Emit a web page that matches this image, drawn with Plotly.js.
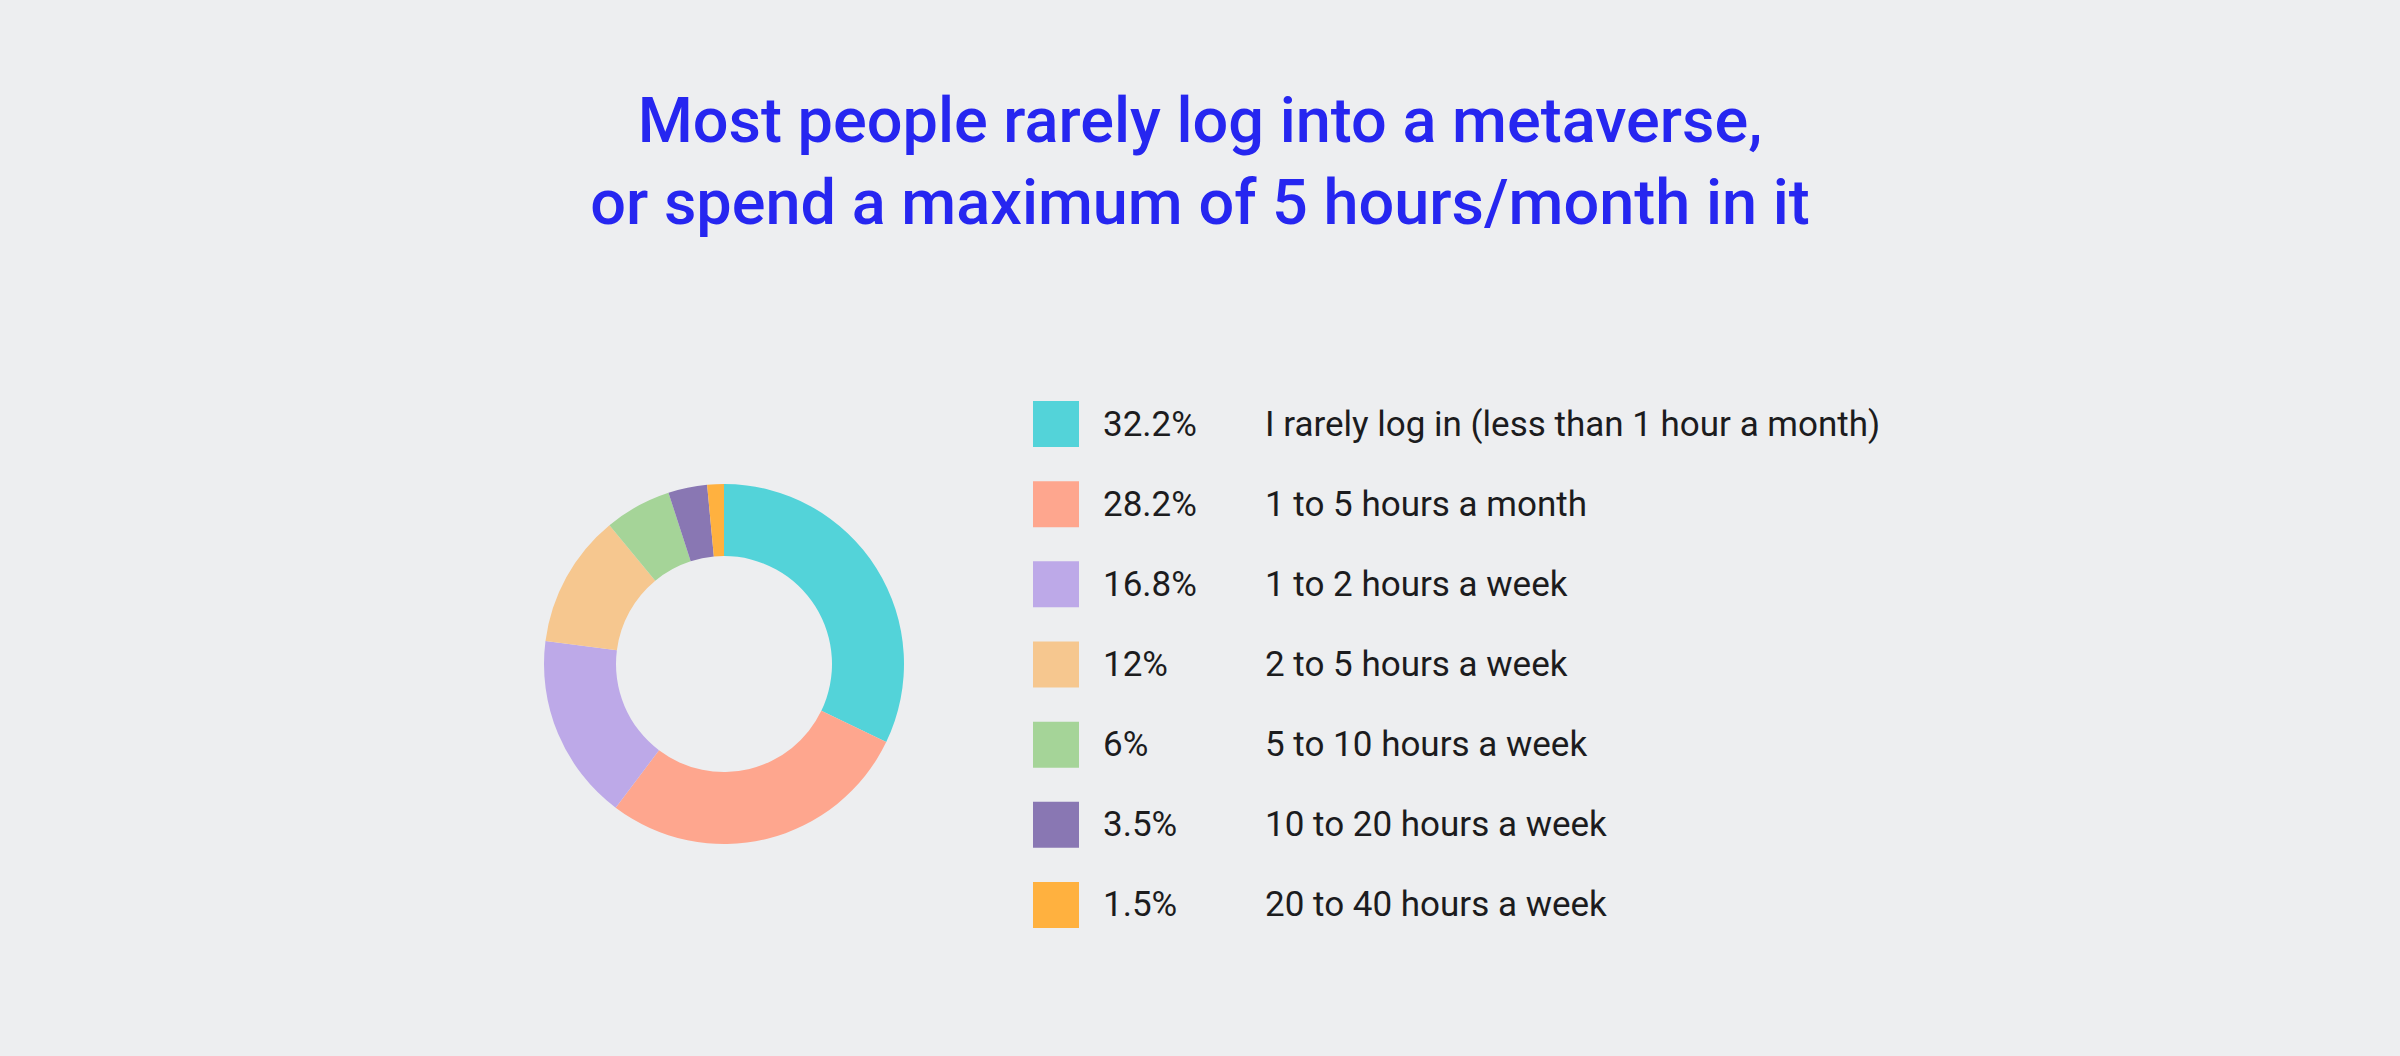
<!DOCTYPE html>
<html>
<head>
<meta charset="utf-8">
<script src="https://cdn.plot.ly/plotly-3.0.1.min.js"></script>
<style>
  html, body { margin: 0; padding: 0; background: #edeef0; }
  #chart { width: 2400px; height: 1056px; }
</style>
</head>
<body>
<div id="chart"></div>
<script>
// Share of metaverse users by time spent
const CATEGORIES = [
    "I rarely log in (less than 1 hour a month)",
    "1 to 5 hours a month",
    "1 to 2 hours a week",
    "2 to 5 hours a week",
    "5 to 10 hours a week",
    "10 to 20 hours a week",
    "20 to 40 hours a week",
];
const SHARES = [32.2, 28.2, 16.8, 12, 6, 3.5, 1.5];
const SHARE_LABELS = ["32.2%", "28.2%", "16.8%", "12%", "6%", "3.5%", "1.5%"];
const COLORS = ["#53d3d9", "#fea68e", "#bda9e8", "#f6c78f", "#a5d498", "#8977b3", "#ffb13f"];

const TITLE = "Most people rarely log into a metaverse,<br>or spend a maximum of 5 hours/month in it";

const FONT = "Roboto, 'Noto Sans', sans-serif";
const BG = "#edeef0";
const W = 2400, H = 1056;

// ── traces ──────────────────────────────────────────────────────────────────

const donut = {
    type: "pie",
    values: SHARES,
    labels: CATEGORIES,
    marker: { colors: COLORS, line: { width: 0 } },
    hole: 0.6,
    sort: false,
    direction: "clockwise",
    rotation: 0,
    textinfo: "none",
    hoverinfo: "skip",
    showlegend: false,
    domain: { x: [544 / W, 904 / W], y: [(H - 844) / H, (H - 484) / H] },
};

// legend swatches drawn on their own axes, one row per category
const swatches = {
    type: "scatter",
    mode: "markers",
    x: CATEGORIES.map(() => 23),
    y: CATEGORIES,
    marker: { symbol: "square", size: 46, color: COLORS, line: { width: 0 } },
    hoverinfo: "skip",
    showlegend: false,
    xaxis: "x",
    yaxis: "y",
    cliponaxis: false,
};

// ── layout ──────────────────────────────────────────────────────────────────

const annotations = [];
CATEGORIES.forEach((cat, i) => {
    annotations.push({
        xref: "x", yref: "y", x: 68, y: cat,
        text: SHARE_LABELS[i], showarrow: false,
        xanchor: "left", yanchor: "middle",
        font: { family: FONT, size: 35, color: "#1c1c1e" },
    });
    annotations.push({
        xref: "x", yref: "y", x: 230, y: cat,
        text: cat, showarrow: false,
        xanchor: "left", yanchor: "middle",
        font: { family: FONT, size: 35, color: "#1c1c1e" },
    });
});

const layout = {
    width: W,
    height: H,
    paper_bgcolor: BG,
    plot_bgcolor: "rgba(0,0,0,0)",
    margin: { l: 0, r: 0, t: 0, b: 0 },
    title: {
        text: TITLE,
        x: 0.5, xanchor: "center",
        y: 1 - 142 / H, yanchor: "top",
        yref: "paper",
        font: { family: FONT, size: 63, weight: 500, color: "#2626f0" },
    },
    xaxis: {
        domain: [1033 / W, 1],
        range: [0, W - 1033],
        visible: false,
        fixedrange: true,
    },
    yaxis: {
        domain: [(H - 945) / H, (H - 384) / H],
        type: "category",
        range: [6.5, -0.5],
        visible: false,
        fixedrange: true,
    },
    annotations,
    showlegend: false,
};

Plotly.newPlot("chart", [donut, swatches], layout, { displayModeBar: false, staticPlot: true });
</script>
</body>
</html>
